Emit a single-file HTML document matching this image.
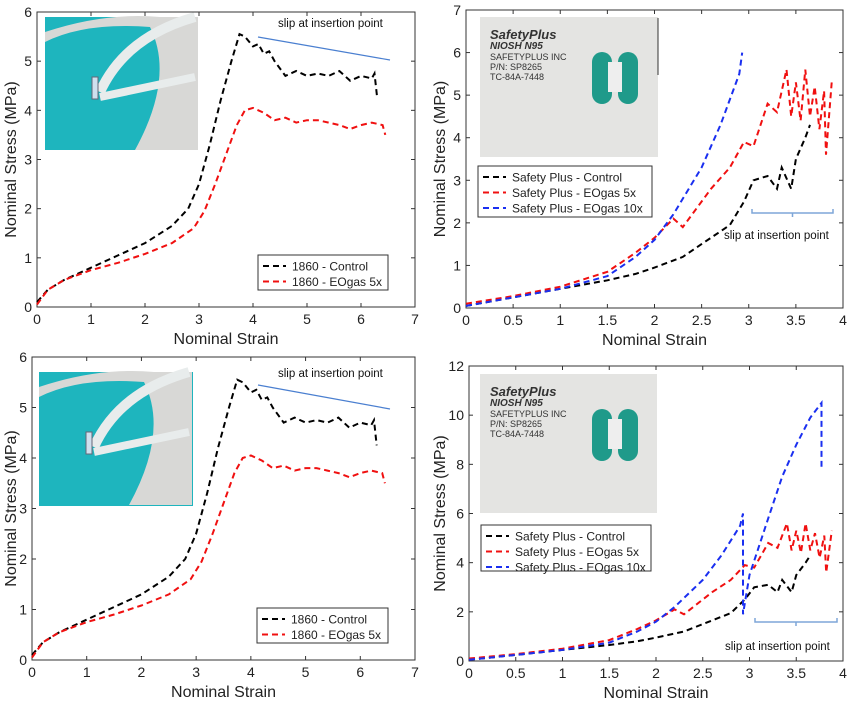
<!DOCTYPE html>
<html><head><meta charset="utf-8"><style>
body{margin:0;background:#fff;width:850px;height:700px;overflow:hidden}
svg{font-family:"Liberation Sans",sans-serif}
</style></head><body>
<svg id="fig" width="850" height="700"></svg>
<script>
// ---- data ----
const c1860X=[0,0.2,0.5,1,1.5,2,2.5,2.8,3.0,3.2,3.4,3.6,3.75,3.85,4.0,4.1,4.2,4.3,4.4,4.6,4.8,5.0,5.2,5.4,5.6,5.8,6.0,6.2,6.25,6.3];
const c1860Y=[0.1,0.35,0.55,0.8,1.05,1.3,1.65,2.0,2.5,3.3,4.2,5.0,5.55,5.5,5.3,5.35,5.15,5.2,5.0,4.7,4.8,4.7,4.75,4.7,4.8,4.6,4.7,4.65,4.75,4.25];
const e1860X=[0,0.2,0.5,1,1.5,2,2.5,2.9,3.1,3.3,3.5,3.7,3.85,4.0,4.2,4.4,4.6,4.8,5.0,5.2,5.4,5.6,5.8,6.0,6.2,6.4,6.45];
const e1860Y=[0.05,0.35,0.55,0.75,0.9,1.08,1.3,1.6,1.95,2.5,3.1,3.7,4.0,4.05,3.95,3.8,3.85,3.75,3.8,3.8,3.75,3.7,3.62,3.7,3.75,3.7,3.5];
const spCX=[0,0.5,1,1.5,1.8,2,2.3,2.5,2.8,2.95,3.05,3.2,3.3,3.35,3.45,3.5,3.6,3.65];
const spCY=[0.05,0.25,0.45,0.65,0.8,0.95,1.2,1.5,1.95,2.5,3.0,3.1,2.8,3.3,2.8,3.5,4.0,4.3];
const sp5X=[0,0.5,1,1.5,1.8,2.0,2.2,2.3,2.4,2.6,2.8,2.95,3.05,3.2,3.3,3.4,3.45,3.5,3.55,3.6,3.65,3.7,3.75,3.8,3.82,3.88];
const sp5Y=[0.1,0.28,0.5,0.85,1.3,1.65,2.1,1.9,2.2,2.8,3.3,3.9,3.8,4.8,4.6,5.6,4.5,5.3,4.4,5.6,4.5,5.2,4.2,5.1,3.6,5.3];
const sp10aX=[0,0.5,1,1.5,1.8,2.0,2.2,2.5,2.7,2.9,2.93];
const sp10aY=[0.05,0.25,0.45,0.75,1.2,1.6,2.2,3.3,4.3,5.5,6.0];
const sp10bX=[0,0.5,1,1.5,1.8,2.0,2.2,2.5,2.7,2.9,2.93,2.93,3.0,3.2,3.35,3.5,3.65,3.77,3.77];
const sp10bY=[0.05,0.25,0.45,0.75,1.2,1.6,2.2,3.3,4.3,5.5,6.0,1.9,3.5,5.8,7.5,8.8,9.9,10.5,7.9];
const ticksA=[0,1,2,3,4,5,6,7];
const ticksB=[0,0.5,1,1.5,2,2.5,3,3.5,4];
const yT6=[0,1,2,3,4,5,6], yT7=[0,1,2,3,4,5,6,7], yT12=[0,2,4,6,8,10,12];

const NS="http://www.w3.org/2000/svg", svg=document.getElementById('fig');
function el(t,a,p){const e=document.createElementNS(NS,t);for(const k in a)e.setAttribute(k,a[k]);(p||svg).appendChild(e);return e;}
function txt(s,a,p){const e=el('text',a,p);e.textContent=s;return e;}

function panel(cfg){
  const g=el('g',{});
  
  
  const sx=v=>cfg.x0+(v-cfg.xmin)/(cfg.xmax-cfg.xmin)*(cfg.x1-cfg.x0);
  const sy=v=>cfg.y0-(v)/(cfg.ymax)*(cfg.y0-cfg.y1);
  // photo
  const ph=el('rect',{x:cfg.photo[0],y:cfg.photo[1],width:cfg.photo[2],height:cfg.photo[3],fill:cfg.photoFill},g);
  
  cfg.photoDraw(g);
  // axes box
  const bx=el('rect',{x:cfg.x0,y:cfg.y1,width:cfg.x1-cfg.x0,height:cfg.y0-cfg.y1,fill:'none',stroke:'#333','stroke-width':1},g);
  
  cfg.xt.forEach(v=>{const x=sx(v);
    el('line',{x1:x,x2:x,y1:cfg.y0,y2:cfg.y0-4,stroke:'#333'},g);el('line',{x1:x,x2:x,y1:cfg.y1,y2:cfg.y1+4,stroke:'#333'},g);
    const t=txt(String(v),{x:x,y:cfg.y0+17,'font-size':14,'text-anchor':'middle',fill:'#222'},g);
    });
  cfg.yt.forEach(v=>{const y=sy(v);
    el('line',{x1:cfg.x0,x2:cfg.x0+4,y1:y,y2:y,stroke:'#333'},g);el('line',{x1:cfg.x1,x2:cfg.x1-4,y1:y,y2:y,stroke:'#333'},g);
    const t=txt(String(v),{x:cfg.x0-5,y:y+5,'font-size':14,'text-anchor':'end',fill:'#222'},g);
    });
  const xl=txt('Nominal Strain',{x:(cfg.x0+cfg.x1)/2,y:cfg.y0+37,'font-size':16,'text-anchor':'middle',fill:'#222'},g);
  
  const yl=txt('Nominal Stress (MPa)',{x:0,y:0,'font-size':16,'text-anchor':'middle',fill:'#222',transform:`translate(${cfg.x0-cfg.ylOff},${(cfg.y0+cfg.y1)/2}) rotate(-90)`},g);
  
  cfg.series.forEach(s=>{
    const d=s.xs.map((v,i)=>(i?'L':'M')+sx(v).toFixed(1)+','+sy(s.ys[i]).toFixed(1)).join(' ');
    const p=el('path',{d:d,fill:'none',stroke:s.color,'stroke-width':2,'stroke-dasharray':'6,4'},g);
    
  });
  // legend
  const L=cfg.legend;
  const lg=el('g',{},g);
  el('rect',{x:L[0],y:L[1],width:L[2],height:L[3],fill:'#fff',stroke:'#333'},lg);
  cfg.series.forEach((s,i)=>{const y=L[1]+11+i*15.5;
    el('line',{x1:L[0]+5,x2:L[0]+28,y1:y,y2:y,stroke:s.color,'stroke-width':2,'stroke-dasharray':'6,4'},lg);
    const t=txt(s.label,{x:L[0]+34,y:y+4.5,'font-size':12,fill:'#222'},lg);
    });
  cfg.annot(g);
}
function slipLine(g,x1,y1,x2,y2,tx,ty){
  el('line',{x1:x1,y1:y1,x2:x2,y2:y2,stroke:'#4a7fd0','stroke-width':1.2},g);
  const t=txt('slip at insertion point',{x:tx,y:ty,'font-size':11.5,fill:'#111'},g);
  
}
function bracket(g,x1,x2,y,tx,ty){
  el('path',{d:`M${x1},${y-4} L${x1},${y} L${x2},${y} L${x2},${y-4} M${(x1+x2)/2},${y} L${(x1+x2)/2},${y+4}`,fill:'none',stroke:'#7ea6d8','stroke-width':1.5},g);
  const t=txt('slip at insertion point',{x:tx,y:ty,'font-size':11.5,fill:'#111'},g);
  
}
function teal(px,py){return g=>{
  el('path',{d:`M${px},${py+15} Q${px+60},${py-5} ${px+115},${py} L${px+153},${py} L${px+153},${py+133} L${px+90},${py+133} Q${px+130},${py+60} ${px+105},${py+10} Q${px+40},${py+5} ${px},${py+25} Z`,fill:'#d8d8d6'},g);
  el('path',{d:`M${px+55},${py+75} Q${px+80},${py+20} ${px+150},${py}`,fill:'none',stroke:'#e8ecec','stroke-width':10},g);
  el('path',{d:`M${px+55},${py+80} L${px+150},${py+60}`,fill:'none',stroke:'#e8ecec','stroke-width':8},g);
  el('rect',{x:px+47,y:py+60,width:6,height:22,fill:'#cfe0ee',stroke:'#667'},g);
}}
function sp(px,py,w,h){return g=>{
  el('rect',{x:px+112,y:py+35,width:20,height:52,rx:10,fill:'#1f9a8a'},g);
  el('rect',{x:px+138,y:py+35,width:20,height:52,rx:10,fill:'#1f9a8a'},g);
  el('rect',{x:px+128,y:py+45,width:14,height:30,fill:'#eee'},g);
  [['SafetyPlus',12,13,'bold'],['NIOSH  N95',22,10,'bold'],['SAFETYPLUS INC',33,9,'normal'],['P/N:  SP8265',43,9,'normal'],['TC-84A-7448',53,9,'normal']].forEach(r=>{
    const t=txt(r[0],{x:px+10,y:py+r[1]+10,'font-size':r[2],'font-weight':r[3],fill:'#333','font-style':r[3]=='bold'?'italic':'normal'},g);
    });
}}
const s1860=[{id:'line-1860-control',xs:c1860X,ys:c1860Y,color:'#000',label:'1860 - Control'},{id:'line-1860-eogas-5x',xs:e1860X,ys:e1860Y,color:'#f01010',label:'1860 - EOgas 5x'}];
panel({name:'panel-top-left',x0:37,x1:415,xmin:0,xmax:7,y0:307,y1:12,ymax:6,xt:ticksA,yt:yT6,ylOff:21,
  photo:[45,17,153,133],photoFill:'#1eb5be',photoDraw:teal(45,17),series:s1860,legend:[258,255,130,35],
  annot:g=>slipLine(g,258,37,390,60,278,27)});
panel({name:'panel-bottom-left',x0:32,x1:415,xmin:0,xmax:7,y0:660,y1:357,ymax:6,xt:ticksA,yt:yT6,ylOff:16,
  photo:[39,372,154,134],photoFill:'#1eb5be',photoDraw:teal(39,372),series:s1860,legend:[257,608,131,35],
  annot:g=>slipLine(g,258,385,390,409,278,377)});
panel({name:'panel-top-right',x0:466,x1:843,xmin:0,xmax:4,y0:308,y1:10,ymax:7,xt:ticksB,yt:yT7,ylOff:21,
  photo:[480,17,178,140],photoFill:'#e4e4e2',photoDraw:sp(480,17),
  series:[{id:'line-sp-control',xs:spCX,ys:spCY,color:'#000',label:'Safety Plus - Control'},{id:'line-sp-eogas-5x',xs:sp5X,ys:sp5Y,color:'#f01010',label:'Safety Plus - EOgas 5x'},{id:'line-sp-eogas-10x',xs:sp10aX,ys:sp10aY,color:'#1a2ff0',label:'Safety Plus - EOgas 10x'}],
  legend:[478,166,174,51],annot:g=>{bracket(g,752,833,213,724,239);el('line',{x1:658,x2:658,y1:18,y2:75,stroke:'#333'},g);}});
panel({name:'panel-bottom-right',x0:469,x1:843,xmin:0,xmax:4,y0:661,y1:366,ymax:12,xt:ticksB,yt:yT12,ylOff:24,
  photo:[480,374,177,139],photoFill:'#e4e4e2',photoDraw:sp(480,374),
  series:[{id:'line-sp-control',xs:spCX,ys:spCY,color:'#000',label:'Safety Plus - Control'},{id:'line-sp-eogas-5x',xs:sp5X,ys:sp5Y,color:'#f01010',label:'Safety Plus - EOgas 5x'},{id:'line-sp-eogas-10x',xs:sp10bX,ys:sp10bY,color:'#1a2ff0',label:'Safety Plus - EOgas 10x'}],
  legend:[481,525,170,46],annot:g=>bracket(g,755,837,622,725,650)});
</script>
</body></html>
